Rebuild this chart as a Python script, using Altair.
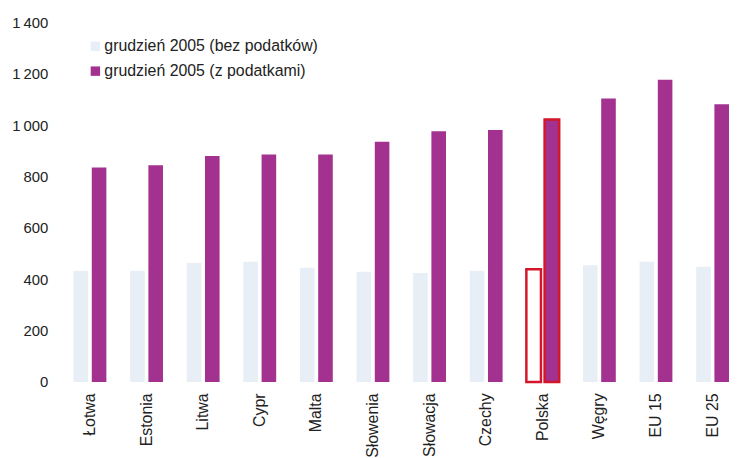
import altair as alt
import pandas as pd

kraje = ["Łotwa", "Estonia", "Litwa", "Cypr", "Malta", "Słowenia", "Słowacja",
         "Czechy", "Polska", "Węgry", "EU 15", "EU 25"]
bez_podatkow = [433, 433, 463, 468, 445, 429, 424, 433, 439, 455, 468, 449]
z_podatkami = [835, 844, 880, 886, 886, 936, 976, 981, 1022, 1104, 1177, 1082]
serie = ["grudzień 2005 (bez podatków)", "grudzień 2005 (z podatkami)"]
kolory = ["#e8eef5", "#a3318f"]

rows = []
for k, a, b in zip(kraje, bez_podatkow, z_podatkami):
    rows.append({"kraj": k, "seria": serie[0], "wartosc": a})
    rows.append({"kraj": k, "seria": serie[1], "wartosc": b})
df = pd.DataFrame(rows)

is_pl = "datum.kraj == 'Polska'"
is_pl_bez = "datum.kraj == 'Polska' && datum.seria == '" + serie[0] + "'"

chart = alt.Chart(df).mark_bar().encode(
    x=alt.X("kraj:N", sort=kraje, title=None,
            scale=alt.Scale(paddingInner=0.42, paddingOuter=0),
            axis=alt.Axis(labelAngle=-90, labelAlign="right", labelBaseline="middle",
                          labelPadding=11, ticks=False, domain=False,
                          labelFontSize=16, labelColor="#222", labelFont="Liberation Sans")),
    xOffset=alt.XOffset("seria:N", sort=serie, scale=alt.Scale(paddingInner=0.2)),
    y=alt.Y("wartosc:Q", title=None,
            scale=alt.Scale(domain=[0, 1400], nice=False),
            axis=alt.Axis(values=[0, 200, 400, 600, 800, 1000, 1200, 1400],
                          labelExpr="replace(format(datum.value, ','), ',', '\u2009')",
                          ticks=False, domain=False, grid=False, labelPadding=26,
                          labelFontSize=15, labelColor="#222", labelFont="Liberation Sans")),
    fill=alt.condition(is_pl_bez, alt.value("white"),
                       alt.Color("seria:N", sort=serie,
                                 scale=alt.Scale(domain=serie, range=kolory),
                                 legend=alt.Legend(title=None, orient="none", legendX=14, legendY=16,
                                                   symbolType="square", symbolSize=90,
                                                   labelFontSize=16, labelColor="#222",
                                                   labelFont="Liberation Sans", labelLimit=500,
                                                   labelOffset=1, rowPadding=9))),
    stroke=alt.condition(is_pl, alt.value("#d4162a"), alt.value("transparent")),
    strokeWidth=alt.condition(is_pl, alt.value(2.5), alt.value(0)),
).properties(
    width=660, height=362,
    autosize=alt.AutoSizeParams(type="none"),
    padding={"left": 66, "top": 13, "right": 0, "bottom": 80},
).configure_view(stroke=None)

chart.save("out.html", embed_options={"renderer": "svg", "actions": False})
